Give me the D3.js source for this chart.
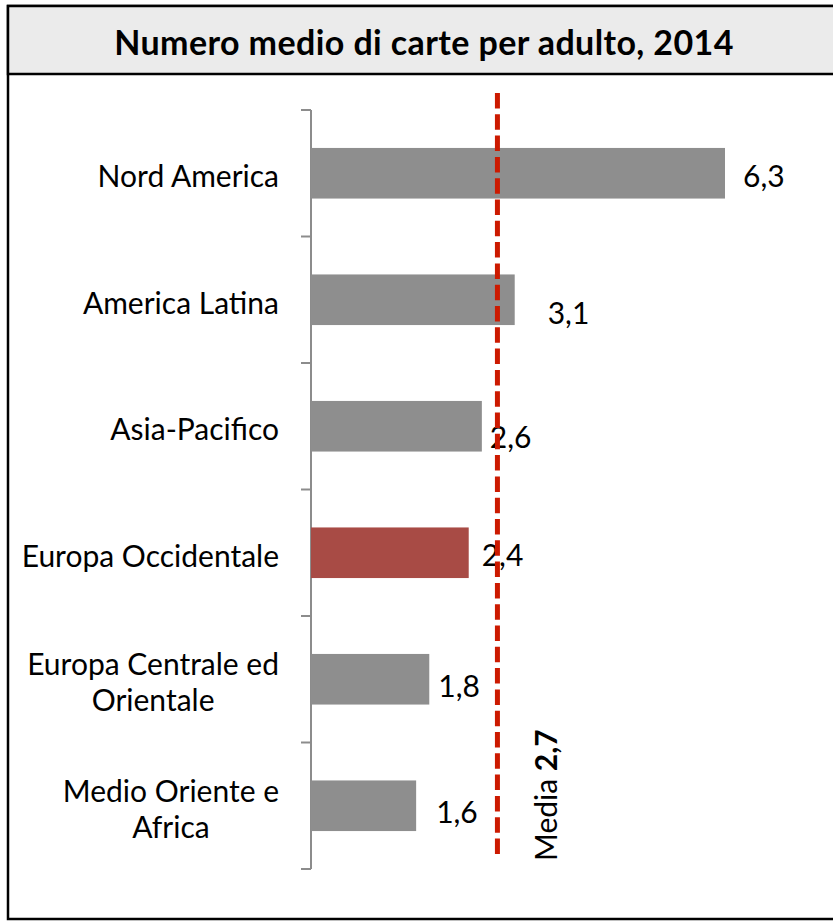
<!DOCTYPE html>
<html>
<head>
<meta charset="utf-8">
<script src="https://cdn.jsdelivr.net/npm/d3@7"></script>
<style>
  html, body { margin: 0; padding: 0; background: #fff; }
  svg text { font-family: Lato, "Open Sans", sans-serif; fill: #000; }
</style>
</head>
<body>
<div id="chart"></div>
<script>
// Data
const categories = [
    ["Nord America"],
    ["America Latina"],
    ["Asia-Pacifico"],
    ["Europa Occidentale"],
    ["Europa Centrale ed", "Orientale"],
    ["Medio Oriente e", "Africa"],
];
const values = [6.3, 3.1, 2.6, 2.4, 1.8, 1.6];
const valueLabels = ["6,3", "3,1", "2,6", "2,4", "1,8", "1,6"];
const highlight = "Europa Occidentale";
const meanValue = 2.7;
const meanLabel = "2,7";
const title = "Numero medio di carte per adulto, 2014";

const width = 833, height = 922;

const svg = d3.select("#chart").append("svg")
    .attr("width", width)
    .attr("height", height);

// frame + title band
svg.append("rect")
    .attr("x", 8).attr("y", 6)
    .attr("width", width + 10).attr("height", 913)
    .attr("fill", "#fff").attr("stroke", "#000").attr("stroke-width", 2.5);
svg.append("rect")
    .attr("x", 8).attr("y", 6)
    .attr("width", width + 10).attr("height", 68)
    .attr("fill", "#ebebeb").attr("stroke", "#000").attr("stroke-width", 2.5);
svg.append("text")
    .attr("x", 424).attr("y", 55)
    .attr("text-anchor", "middle")
    .attr("font-weight", "bold")
    .attr("font-size", 34)
    .attr("letter-spacing", 0.4)
    .text(title);

const names = categories.map(c => c.join(" "));

const y = d3.scaleBand()
    .domain(names)
    .range([110, 869]);

const x = d3.scaleLinear()
    .domain([0, 6.3])
    .range([311, 725]);

// axis: vertical rule with ticks on the band edges
const axisG = svg.append("g").attr("transform", "translate(311,0)");
axisG.append("line")
    .attr("x1", 0).attr("x2", 0)
    .attr("y1", y.range()[0]).attr("y2", y.range()[1])
    .attr("stroke", "#8c8c8c").attr("stroke-width", 2);
const tickYs = names.map(n => y(n)).concat([y.range()[1]]);
axisG.selectAll(".tk").data(tickYs).join("line")
    .attr("x1", -10).attr("x2", 0)
    .attr("y1", d => d).attr("y2", d => d)
    .attr("stroke", "#8c8c8c").attr("stroke-width", 2);

// bars
const barH = y.bandwidth() * 0.4;
svg.append("g").selectAll("rect")
    .data(values)
    .join("rect")
    .attr("x", x(0))
    .attr("y", (d, i) => y(names[i]) + (y.bandwidth() - barH) / 2)
    .attr("width", d => x(d) - x(0))
    .attr("height", barH)
    .attr("fill", (d, i) => names[i] === highlight ? "#a84b45" : "#8e8e8e");

// category labels
const catG = svg.append("g");
categories.forEach((lines, i) => {
    const cy = y(names[i]) + y.bandwidth() / 2 + 3;
    const lh = 36;
    const t = catG.append("text")
        .attr("font-size", 30)
        .attr("text-anchor", "middle");
    lines.forEach((l, j) => {
        t.append("tspan")
            .attr("x", 0)
            .attr("y", cy + (j - (lines.length - 1) / 2) * lh)
            .attr("dy", "0.36em")
            .text(l);
    });
    // right align the block on x = 279
    const w = t.node().getBBox().width;
    t.attr("transform", `translate(${279 - w / 2},0)`);
});

// value labels (placed by hand in the original)
const nudge = [[18, 3], [33, 13], [8, 11], [13, 2], [9, 7], [20, 6]];
svg.append("g").selectAll("text")
    .data(values)
    .join("text")
    .attr("x", (d, i) => x(d) + nudge[i][0])
    .attr("y", (d, i) => y(names[i]) + y.bandwidth() / 2 + nudge[i][1])
    .attr("dy", "0.36em")
    .attr("font-size", 30)
    .text((d, i) => valueLabels[i]);

// mean line
const mx = x(meanValue) + 9;
svg.append("line")
    .attr("x1", mx).attr("x2", mx)
    .attr("y1", 93).attr("y2", 857)
    .attr("stroke", "#cc1a00")
    .attr("stroke-width", 5)
    .attr("stroke-dasharray", "15.5,5.8");

const mt = svg.append("text")
    .attr("transform", `translate(557,861) rotate(-90)`)
    .attr("font-size", 30);
mt.append("tspan").text("Media ");
mt.append("tspan").attr("font-weight", "bold").text(meanLabel);
</script>
</body>
</html>
